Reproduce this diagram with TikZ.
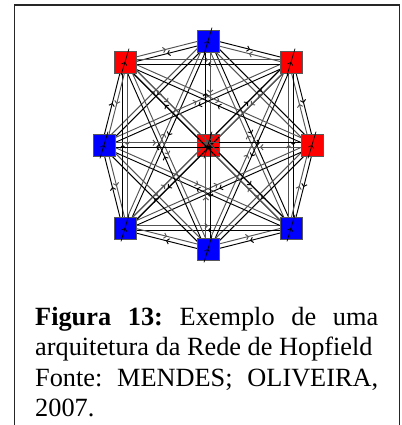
\documentclass[tikz,border=0pt]{standalone}
\usepackage{fontspec}
\setmainfont{Liberation Serif}
\usepackage{xcolor}
\usepackage{tikz}
\usetikzlibrary{arrows.meta}
\usetikzlibrary{calc}
\usetikzlibrary{backgrounds}
\usetikzlibrary{decorations.markings}
\frenchspacing

\tikzset{
	unit/.style = {rectangle, draw=gray!70!black, line width=0.8pt, minimum size=22pt, inner sep=0pt},
	wire/.style = {line width=0.95pt, postaction={decorate},
		decoration={markings, mark=at position 0.5 with {\arrow{Straight Barb[length=2.4pt,width=5.5pt]}}}},
	selfwire/.style = {line width=0.7pt, black, postaction={decorate},
		decoration={markings, mark=at position 0.5 with {\arrow{Straight Barb[length=2.4pt,width=5.5pt]}}}},
	caption/.style = {text width=343pt, align=justify, inner sep=0pt, font=\fontsize{26.3}{30.5}\selectfont}
}

\begin{document}
\begin{tikzpicture}[x=1pt, y=-1pt]
		\useasboundingbox (0,0) rectangle (401,425);
		\draw[line width=1.6pt, black!85] (14.5,425) -- (14.5,5) -- (399.5,5) -- (399.5,425);
		\begin{scope}[every node/.style = {unit}]
			\node[fill=blue] (t) at (208,41) {};
			\node[fill=red] (tl) at (125,62) {};
			\node[fill=red] (tr) at (291,62) {};
			\node[fill=blue] (l) at (104,145) {};
			\node[fill=red] (r) at (312,145) {};
			\node[fill=blue] (bl) at (125,228) {};
			\node[fill=blue] (br) at (291,228) {};
			\node[fill=blue] (b) at (208,249) {};
		\end{scope}
		\begin{pgfonlayer}{background}
			\node[unit, fill=red] (c) at (208,145) {};
			\foreach \a/\b/\s in {t/tr/0, t/r/0, t/br/0, t/b/0, t/bl/0, t/l/0, t/tl/0,
				tr/r/0, tr/br/0, tr/b/0, tr/bl/0, tr/l/0, tr/tl/0,
				r/br/0, r/b/0, r/bl/0, r/l/0, r/tl/0,
				br/b/0, br/bl/0, br/l/0, br/tl/0,
				b/bl/0, b/l/0, b/tl/0,
				bl/l/0, bl/tl/0,
				l/tl/0,
				c/t/11, c/r/11, c/b/11, c/l/11, c/tl/13.5, c/tr/13.5, c/bl/13.5, c/br/13.5} {
				\path[wire, draw=black, shorten <=\s pt] ($(\a)!2.2pt!90:(\b)$) -- ($(\b)!2.2pt!-90:(\a)$);
				\path[wire, draw=gray!65!black, shorten >=\s pt] ($(\b)!2.2pt!90:(\a)$) -- ($(\a)!2.2pt!-90:(\b)$);
			}
		\end{pgfonlayer}
		\foreach \n in {t, tl, tr, l, c, r, bl, br, b}
			\path[selfwire, draw] ($(\n.south)+(-4,2)$) -- ($(\n.north)+(4,-2)$);
		\node[caption, anchor=base west] (cap) at (35,325) {\textbf{Figura 13:} Exemplo de uma\linebreak arquitetura da Rede de Hopfield\newline Fonte: MENDES; OLIVEIRA,\linebreak 2007.};
	\end{tikzpicture}
\end{document}
